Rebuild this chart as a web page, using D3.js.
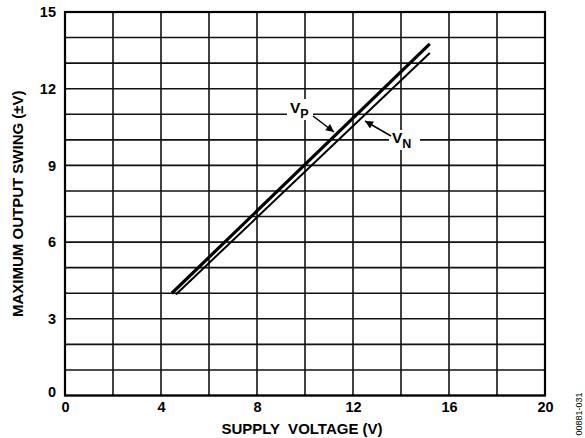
<!DOCTYPE html>
<html>
<head>
<meta charset="utf-8">
<script src="https://cdn.jsdelivr.net/npm/d3@7"></script>
<style>
  html, body { margin: 0; padding: 0; background: #fff; }
  svg { display: block; }
  text { font-family: "Liberation Sans", Arial, sans-serif; font-weight: bold; fill: #000; }
</style>
</head>
<body>
<svg id="chart" width="585" height="438"></svg>
<script>
// Output swing versus supply voltage
const xTicks = [0, 4, 8, 12, 16, 20];
const yTicks = [0, 3, 6, 9, 12, 15];
const xGrid = d3.range(0, 21, 2);
const yGrid = d3.range(0, 16, 1);

// Positive swing (V_P) and negative swing (V_N) endpoints
const vpSupply = [4.45, 15.2];
const vpSwing = [4.0, 13.75];
const vnSupply = [4.62, 15.2];
const vnSwing = [3.95, 13.4];

const margin = { left: 65, right: 40, top: 12, bottom: 42.5 };
const W = 585, H = 438;
const FONT = "'Liberation Sans', Arial, sans-serif";

const svg = d3.select("#chart");
const x = d3.scaleLinear().domain([0, 20]).range([margin.left, W - margin.right]);
const y = d3.scaleLinear().domain([0, 15]).range([H - margin.bottom, margin.top]);

// grid
const grid = svg.append("g").attr("stroke", "#111").attr("stroke-width", 1.6);
grid.selectAll("line.v").data(xGrid).join("line")
  .attr("x1", d => x(d)).attr("x2", d => x(d))
  .attr("y1", y(0)).attr("y2", y(15));
grid.selectAll("line.h").data(yGrid).join("line")
  .attr("y1", d => y(d)).attr("y2", d => y(d))
  .attr("x1", x(0)).attr("x2", x(20));

// frame
svg.append("rect")
  .attr("x", x(0)).attr("y", y(15))
  .attr("width", x(20) - x(0)).attr("height", y(0) - y(15))
  .attr("fill", "none").attr("stroke", "#000").attr("stroke-width", 2.2);

// axes with tick labels only
const xAxis = svg.append("g").attr("transform", `translate(0,${y(0)})`)
  .call(d3.axisBottom(x).tickValues(xTicks).tickSize(0).tickPadding(6).tickFormat(d3.format("d")));
const yAxis = svg.append("g").attr("transform", `translate(${x(0)},0)`)
  .call(d3.axisLeft(y).tickValues(yTicks).tickSize(0).tickPadding(9).tickFormat(d3.format("d")));
[xAxis, yAxis].forEach(a => {
  a.select(".domain").remove();
  a.selectAll("text").style("font-size", "14.5px").style("font-family", FONT).style("font-weight", "bold");
});
yAxis.selectAll(".tick").filter(d => d === 0).select("text").attr("dy", "0.1em");

// curves
const line = d3.line().x(d => x(d[0])).y(d => y(d[1]));
const vp = d3.zip(vpSupply, vpSwing);
const vn = d3.zip(vnSupply, vnSwing);
svg.append("path").datum(vn).attr("d", line)
  .attr("fill", "none").attr("stroke", "#000").attr("stroke-width", 2);
svg.append("path").datum(vp).attr("d", line)
  .attr("fill", "none").attr("stroke", "#000").attr("stroke-width", 3.2);

// labels with white backing
function label(main, sub, px, py, box) {
  svg.append("rect").attr("x", box[0]).attr("y", box[1]).attr("width", box[2]).attr("height", box[3]).attr("fill", "#fff");
  const t = svg.append("text").attr("x", px).attr("y", py).style("font-size", "15.5px");
  t.append("tspan").text(main);
  t.append("tspan").attr("dy", 5).style("font-size", "12.5px").text(sub);
}
label("V", "P", 290, 113, [287, 99, 26, 21]);
label("V", "N", 392, 143, [389, 130, 31, 20]);

// arrows
const defs = svg.append("defs");
defs.append("marker").attr("id", "ah").attr("viewBox", "0 0 10 10")
  .attr("refX", 10).attr("refY", 5).attr("markerWidth", 11).attr("markerHeight", 8)
  .attr("markerUnits", "userSpaceOnUse").attr("orient", "auto")
  .append("path").attr("d", "M0,0 L10,5 L0,10 Z").attr("fill", "#000");
svg.append("line").attr("x1", 313).attr("y1", 116).attr("x2", 334).attr("y2", 132)
  .attr("stroke", "#000").attr("stroke-width", 1.5).attr("marker-end", "url(#ah)");
svg.append("line").attr("x1", 391).attr("y1", 136).attr("x2", 365).attr("y2", 121)
  .attr("stroke", "#000").attr("stroke-width", 1.5).attr("marker-end", "url(#ah)");

// axis titles
svg.append("text").attr("x", (x(0) + x(20)) / 2 - 3).attr("y", 434)
  .attr("text-anchor", "middle").style("font-size", "15px").style("white-space", "pre")
  .text("SUPPLY  VOLTAGE (V)");
svg.append("text").attr("transform", `translate(23,${(y(0) + y(15)) / 2}) rotate(-90)`)
  .attr("text-anchor", "middle").style("font-size", "15px").text("MAXIMUM OUTPUT SWING (±V)");

// figure code
svg.append("text").attr("transform", "translate(582,414) rotate(-90)")
  .attr("text-anchor", "middle").style("font-size", "9px").style("font-weight", "normal")
  .text("00881-031");
</script>
</body>
</html>
